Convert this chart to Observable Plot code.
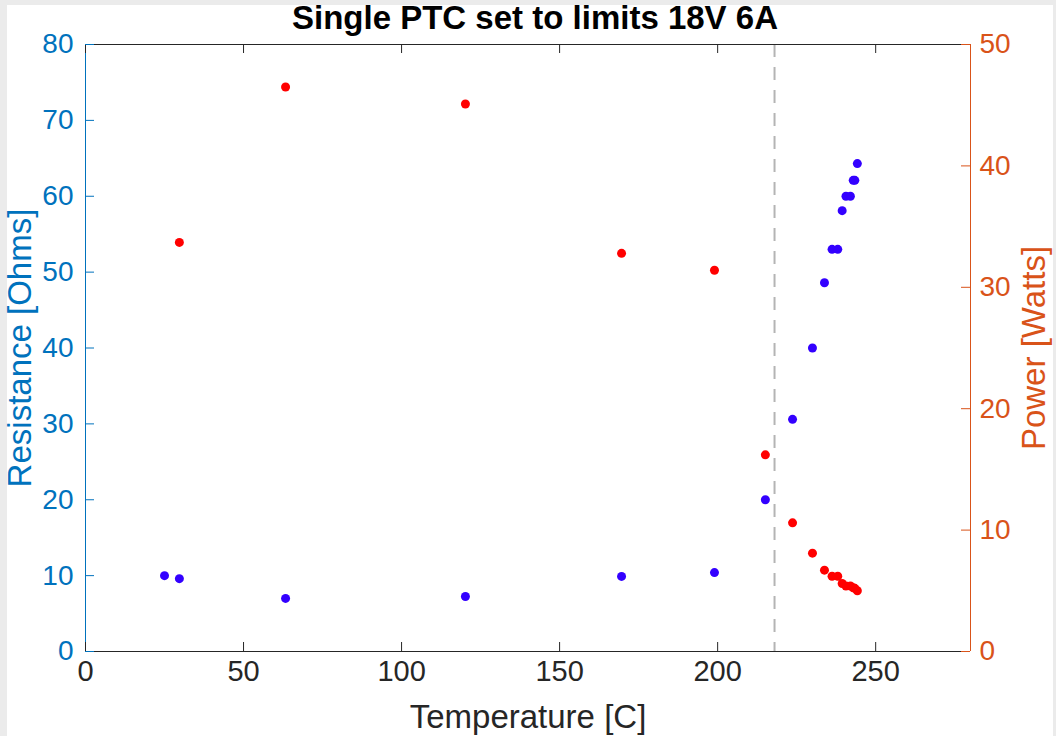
<!DOCTYPE html>
<html>
<head>
<meta charset="utf-8">
<script src="https://cdn.jsdelivr.net/npm/d3@7"></script>
<script src="https://cdn.jsdelivr.net/npm/@observablehq/plot@0.6"></script>
<style>
  html, body { margin: 0; padding: 0; background: #ebebeb; }
  #frame { position: absolute; left: 7px; top: 5px; width: 1046px; height: 731px; background: #ffffff; }
  #chart { position: absolute; left: 0; top: 0; }
</style>
</head>
<body>
<div id="frame"></div>
<div id="chart"></div>
<script>
const titleText = "Single PTC set to limits 18V 6A";
const xLabel = "Temperature [C]";
const yLeftLabel = "Resistance [Ohms]";
const yRightLabel = "Power [Watts]";

const xTicks = [0, 50, 100, 150, 200, 250];
const resistanceTicks = [0, 10, 20, 30, 40, 50, 60, 70, 80];
const powerTicks = [0, 10, 20, 30, 40, 50];

const resTemp = [25, 29.7, 63.3, 120.2, 169.6, 199, 215.1, 223.7, 230, 233.8, 236.2, 238, 239.4, 240.6, 242, 242.9, 243.4, 244.2];
const resistance = [10.0, 9.6, 7.0, 7.25, 9.9, 10.4, 20.0, 30.6, 40.0, 48.6, 53.0, 53.0, 58.1, 60.0, 60.0, 62.1, 62.1, 64.3];

const powTemp = [29.7, 63.3, 120.2, 169.6, 199, 215.1, 223.7, 230, 233.8, 236.2, 238, 239.4, 240.6, 242, 242.9, 243.4, 244.2];
const power = [33.7, 46.5, 45.1, 32.8, 31.4, 16.2, 10.6, 8.1, 6.7, 6.2, 6.2, 5.6, 5.4, 5.4, 5.25, 5.2, 5.0];

const limitTemp = [218];

const xDomain = [0, 280];
const resDomain = [0, 80];
const powDomain = [0, 50];
const k = resDomain[1] / powDomain[1];

const blueAxis = "#0072BD";
const orangeAxis = "#D95319";
const darkAxis = "#262626";
const font = "'Liberation Sans', Arial, Helvetica, sans-serif";

const W = 1056, H = 736, ML = 85, MR = 86, MT = 44, MB = 85;
const FW = W - ML - MR, FH = H - MT - MB, TL = 9;

const resData = resTemp.map((t, i) => ({t, r: resistance[i]}));
const powData = powTemp.map((t, i) => ({t, p: power[i]}));

const chart = Plot.plot({
  width: W,
  height: H,
  marginLeft: ML,
  marginRight: MR,
  marginTop: MT,
  marginBottom: MB,
  style: {background: "transparent", fontFamily: font, overflow: "visible"},
  x: {domain: xDomain},
  y: {domain: resDomain},
  marks: [
    Plot.ruleX(limitTemp, {stroke: "#b4b4b4", strokeWidth: 2, strokeDasharray: "13,10"}),
    // box lines
    Plot.ruleY([resDomain[1]], {stroke: darkAxis, strokeWidth: 1}),
    Plot.ruleY([resDomain[0]], {stroke: darkAxis, strokeWidth: 1}),
    Plot.ruleX([xDomain[0]], {stroke: blueAxis, strokeWidth: 1}),
    Plot.ruleX([xDomain[1]], {stroke: orangeAxis, strokeWidth: 1}),
    // inward tick marks
    Plot.tickX(xTicks, {x: d => d, insetTop: FH - TL, stroke: darkAxis}),
    Plot.tickX(xTicks, {x: d => d, insetBottom: FH - TL, stroke: darkAxis}),
    Plot.tickY(resistanceTicks, {y: d => d, insetRight: FW - TL, stroke: blueAxis}),
    Plot.tickY(powerTicks, {y: d => d * k, insetLeft: FW - TL, stroke: orangeAxis}),
    // tick labels
    Plot.axisX({anchor: "bottom", ticks: xTicks, tickSize: 0, tickPadding: 9, fontSize: 29, color: darkAxis, label: null}),
    Plot.axisY({anchor: "left", ticks: resistanceTicks, tickSize: 0, tickPadding: 12, fontSize: 28, color: blueAxis, label: null}),
    Plot.axisY({anchor: "right", ticks: powerTicks.map(p => p * k), tickFormat: d => String(Math.round(d / k)), tickSize: 0, tickPadding: 9, fontSize: 28, color: orangeAxis, label: null}),
    // data
    Plot.dot(resData, {x: "t", y: "r", r: 4.5, fill: "#3300ff", stroke: null}),
    Plot.dot(powData, {x: "t", y: d => d.p * k, r: 4.5, fill: "#ff0000", stroke: null}),
    // labels
    Plot.text([titleText], {frameAnchor: "top", dx: 7, dy: -39, fontSize: 33, fontWeight: "bold", fill: "#000000", lineAnchor: "top", textAnchor: "middle"}),
    Plot.text([xLabel], {frameAnchor: "bottom", dy: 66, fontSize: 33, fill: darkAxis, lineAnchor: "middle", textAnchor: "middle"}),
    Plot.text([yLeftLabel], {frameAnchor: "left", dx: -65, rotate: -90, fontSize: 33, fill: blueAxis, lineAnchor: "middle", textAnchor: "middle"}),
    Plot.text([yRightLabel], {frameAnchor: "right", dx: 64, rotate: -90, fontSize: 33, fill: orangeAxis, lineAnchor: "middle", textAnchor: "middle"})
  ]
});
document.getElementById("chart").appendChild(chart);
</script>
</body>
</html>
